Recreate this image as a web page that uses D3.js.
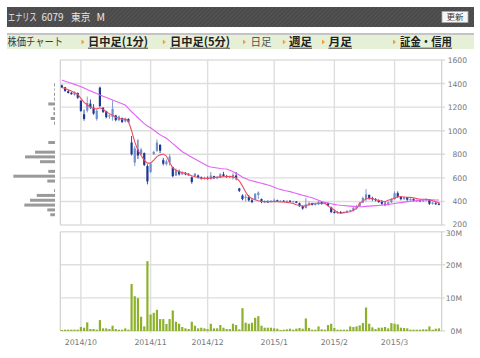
<!DOCTYPE html>
<html><head><meta charset="utf-8">
<script src="https://cdn.jsdelivr.net/npm/d3@7"></script>
<style>html,body{margin:0;padding:0;background:#fff;}svg{display:block;}</style>
</head><body><svg id="c" width="480" height="358"></svg>
<script>
// ---------------- DATA ----------------
const headerParts = ["エナリス","6079","東京","M"];
const refreshLabel = "更新";
const tabTitle = "株価チャート";
const tabLabels = ["日中足(1分)","日中足(5分)","日足","週足","月足","証金・信用"];

const dates = [
"2014/09/22","2014/09/24","2014/09/25","2014/09/26","2014/09/29","2014/09/30",
"2014/10/01","2014/10/02","2014/10/03","2014/10/06","2014/10/07","2014/10/08","2014/10/09","2014/10/10","2014/10/14","2014/10/15","2014/10/16","2014/10/17","2014/10/20","2014/10/21","2014/10/22","2014/10/23","2014/10/24","2014/10/27","2014/10/28","2014/10/29","2014/10/30","2014/10/31",
"2014/11/04","2014/11/05","2014/11/06","2014/11/07","2014/11/10","2014/11/11","2014/11/12","2014/11/13","2014/11/14","2014/11/17","2014/11/18","2014/11/19","2014/11/20","2014/11/21","2014/11/25","2014/11/26","2014/11/27","2014/11/28",
"2014/12/01","2014/12/02","2014/12/03","2014/12/04","2014/12/05","2014/12/08","2014/12/09","2014/12/10","2014/12/11","2014/12/12","2014/12/15","2014/12/16","2014/12/17","2014/12/18","2014/12/19","2014/12/22","2014/12/24","2014/12/25","2014/12/26","2014/12/29","2014/12/30",
"2015/01/05","2015/01/06","2015/01/07","2015/01/08","2015/01/09","2015/01/13","2015/01/14","2015/01/15","2015/01/16","2015/01/19","2015/01/20","2015/01/21","2015/01/22","2015/01/23","2015/01/26","2015/01/27","2015/01/28","2015/01/29","2015/01/30",
"2015/02/02","2015/02/03","2015/02/04","2015/02/05","2015/02/06","2015/02/09","2015/02/10","2015/02/12","2015/02/13","2015/02/16","2015/02/17","2015/02/18","2015/02/19","2015/02/20","2015/02/23","2015/02/24","2015/02/25","2015/02/26","2015/02/27",
"2015/03/02","2015/03/03","2015/03/04","2015/03/05","2015/03/06","2015/03/09","2015/03/10","2015/03/11","2015/03/12","2015/03/13","2015/03/16","2015/03/17","2015/03/18","2015/03/19","2015/03/20"
];

const opens = [1385,1368,1335,1322,1305,1320,1255,1140,1170,1230,1195,1100,1365,1195,1165,1120,1115,1130,1090,1105,1080,1100,900,730,840,800,810,700,
650,800,830,880,750,715,730,690,620,655,630,640,630,605,612,620,605,595,
600,590,615,598,600,630,615,610,600,620,510,450,430,440,410,415,455,420,395,400,395,
405,410,402,405,400,405,398,400,385,360,345,375,385,370,375,395,380,385,350,
310,305,310,302,305,318,320,340,360,390,420,455,430,420,410,395,380,372,392,
420,470,440,420,435,415,420,405,410,400,410,415,380,385,380];
const highs = [1392,1372,1345,1330,1335,1325,1258,1180,1290,1265,1225,1180,1375,1200,1170,1140,1255,1135,1130,1112,1110,1105,955,870,925,855,815,715,
730,830,925,885,770,755,800,695,680,670,655,650,640,612,640,628,612,610,
612,650,618,610,640,650,625,620,640,650,515,460,460,455,425,470,485,425,410,410,412,
425,415,410,412,410,412,405,402,390,365,428,400,390,385,405,400,395,390,355,
325,320,318,315,325,330,355,370,395,440,505,460,440,428,418,412,400,400,428,
485,485,445,440,438,428,425,418,415,415,425,420,398,395,395];
const lows = [1362,1330,1315,1305,1298,1270,1160,1085,1155,1185,1135,1085,1200,1150,1105,1100,1085,1080,1080,1065,1070,1065,790,700,760,795,700,545,
640,795,820,810,705,705,705,605,615,620,625,622,620,550,608,595,585,585,
585,585,590,588,598,610,600,598,585,580,480,410,400,398,385,410,420,385,385,388,390,
398,398,398,398,396,395,392,385,355,330,340,360,365,365,370,372,375,360,300,
298,295,295,298,300,310,315,330,355,385,400,415,405,400,388,372,360,365,385,
415,430,410,412,405,400,400,395,398,395,400,370,372,370,368];
const closes = [1368,1338,1320,1310,1325,1280,1168,1100,1235,1200,1145,1170,1210,1160,1115,1130,1185,1090,1120,1075,1100,1075,800,850,790,840,710,570,
720,820,900,830,720,740,780,615,660,630,645,630,628,565,635,605,595,600,
590,620,598,605,630,615,610,612,625,600,490,420,440,410,395,465,475,395,400,395,405,
410,402,405,400,405,398,400,388,360,340,375,385,370,378,395,380,390,365,310,
305,310,302,310,320,325,345,360,390,430,460,430,420,410,395,380,372,392,420,
470,440,420,435,415,420,405,410,400,410,420,380,390,378,375];
// volume, millions of shares
const volumes = [0.3,0.4,0.4,0.4,0.4,0.4,1.2,1.0,2.6,0.6,0.6,0.4,3.3,0.8,0.8,0.6,1.6,0.6,0.4,0.4,0.8,0.4,14.2,10.5,9.9,4.3,1.4,21.1,
5.0,5.5,6.4,3.6,3.6,2.1,3.6,6.2,2.8,2.2,1.2,0.8,0.6,2.8,1.6,0.8,1.0,0.8,
0.6,2.2,0.8,0.8,1.8,1.0,0.6,0.6,2.2,1.8,0.5,6.9,2.5,2.2,2.5,4.0,4.5,1.6,1.0,1.0,1.0,
0.8,0.7,0.3,0.4,0.5,0.7,0.4,0.7,0.9,0.7,3.8,0.9,0.4,0.4,1.4,0.5,0.4,1.8,2.2,
0.9,0.4,0.4,0.4,0.4,1.4,1.2,1.4,1.7,2.4,7.1,2.2,1.1,0.6,1.0,1.0,1.2,0.8,2.4,
2.2,2.0,1.0,0.9,0.8,0.4,0.4,0.4,0.4,0.5,0.5,1.4,0.4,0.7,0.8];
// short moving average (red)
const maShort = [1366,1358,1348,1337,1323,1309,1275,1240,1218,1200,1188,1185,1195,1182,1160,1145,1132,1115,1105,1096,1100,1082,1000,905,835,790,750,725,
725,750,780,795,802,785,730,685,665,652,645,638,628,618,610,603,598,596,
596,598,602,606,608,610,612,611,608,598,575,530,480,440,425,415,405,400,398,398,398,
398,398,396,395,392,389,382,372,365,361,362,374,380,384,385,384,384,362,345,
327,305,300,305,310,313,325,341,382,405,420,427,422,414,408,402,398,410,418,
428,440,440,438,435,434,430,425,418,418,418,414,406,398,390];
// long moving average (magenta)
const maLong = [1430,1420,1411,1402,1393,1384,1374,1362,1350,1338,1327,1315,1303,1293,1282,1272,1261,1250,1240,1229,1218,1190,1161,1136,1110,1085,1060,1040,
1025,1005,985,965,950,936,914,890,868,845,822,806,790,775,760,745,730,715,
700,692,688,684,680,677,675,665,652,640,624,605,594,582,575,568,561,554,547,540,530,
520,510,502,495,489,483,476,468,460,452,445,438,432,420,410,400,392,386,380,
375,370,367,365,362,360,358,356,355,356,358,360,362,364,366,369,372,375,378,
382,386,390,394,398,401,404,407,410,412,412,413,413,412,412];

const priceTicks = [200,400,600,800,1000,1200,1400,1600];
const volTicks = [0,10,20,30];
const volTickLabels = ["0M","10M","20M","30M"];
const monthTickDates = ["2014/10/01","2014/11/04","2014/12/01","2015/01/05","2015/02/02","2015/03/02"];
const monthTickLabels = ["2014/10","2014/11","2014/12","2015/1","2015/2","2015/3"];

// volume-at-price profile (left)
const profilePrices = [287,328,369,410,451,492,532,573,614,655,696,737,778,818,859,900,941,982,1023,1063,1104,1145,1186,1227,1268,1309,1350,1390];
const profileVolumes = [3.3,5.4,21.5,17.5,12.8,0.7,0,5.4,29.2,4.7,0,10.5,21,14,0,4.7,0,0,0,0.7,3,1.1,1.1,4.7,0.7,0.7,0.4,0.7];

// ---------------- DRAW ----------------
const svg = d3.select("#c");
const JP = "'Noto Sans CJK JP', sans-serif";
const defs = svg.append("defs");
const pat = defs.append("pattern").attr("id","stripe").attr("width",3).attr("height",3)
  .attr("patternUnits","userSpaceOnUse").attr("patternTransform","rotate(45)");
pat.append("rect").attr("width",3).attr("height",3).attr("fill","#4a4a4a");
pat.append("rect").attr("width",1).attr("height",3).attr("fill","#555555");

// header bar
svg.append("rect").attr("x",7).attr("y",7).attr("width",467).attr("height",20).attr("fill","url(#stripe)");
const hdrX = [8, 41.5, 71, 96.5], hdrScale = [0.68, 0.95, 0.92, 1.0];
headerParts.forEach((t,i)=>{
  svg.append("text").attr("transform",`translate(${hdrX[i]},21) scale(${hdrScale[i]},1)`)
    .attr("font-family",JP).attr("font-size",10.5).attr("fill","#e6e6e6").text(t);
});
svg.append("rect").attr("x",442).attr("y",11.5).attr("width",26).attr("height",11).attr("fill","#f6f6f6")
  .attr("stroke","#aaa").attr("stroke-width",0.8);
svg.append("text").attr("x",455).attr("y",20.3).attr("text-anchor","middle").attr("font-family",JP)
  .attr("font-size",8.5).attr("fill","#333").text(refreshLabel);

// tab bar
svg.append("rect").attr("x",7).attr("y",34).attr("width",467).attr("height",15).attr("fill","#e6f0d6");
svg.append("line").attr("x1",7).attr("x2",474).attr("y1",34).attr("y2",34).attr("stroke","#c4c4c4").attr("stroke-width",2);
svg.append("text").attr("x",7.5).attr("y",46).attr("font-family",JP).attr("font-size",11).attr("fill","#3a3a3a")
  .attr("textLength",55.5).attr("lengthAdjust","spacingAndGlyphs").text(tabTitle);
const triX = [81.5,162.8,243,282.8,322,393];
const tabX = [88,170,250.5,289,328.5,400];
const tabW = [60,60,21,23,23.5,52];
tabLabels.forEach((t,i)=>{
  const tx = triX[i];
  svg.append("path").attr("d",`M${tx},${39.5}L${tx+3},${42}L${tx},${44.5}Z`).attr("fill","#f0a030");
  const plain = (t === "日足");
  svg.append("text").attr("x",tabX[i]).attr("y",46.3).attr("font-family",JP).attr("font-size",11.5)
    .attr("font-weight",plain?400:700).attr("fill",plain?"#555":"#222")
    .attr("textLength",tabW[i]).attr("lengthAdjust","spacingAndGlyphs").text(t);
  if(!plain){
    svg.append("line").attr("x1",tabX[i]).attr("x2",tabX[i]+tabW[i]).attr("y1",48.2).attr("y2",48.2)
      .attr("stroke","#333").attr("stroke-width",0.9);
  }
});

// scales
const x = d3.scaleBand().domain(dates).range([60.3,440.5]).padding(0);
const xc = d => x(d) + x.bandwidth()/2;
const yP = d3.scaleLinear().domain([200,1600]).range([225,60]);
const yV = d3.scaleLinear().domain([0,30]).range([331,231.7]);
const plotL = 60.3, plotR = 441.7;
const gridC = "#dedede", frameC = "#cfcfcf";
const AX = "'DejaVu Sans', sans-serif";

// price grid
const g = svg.append("g");
priceTicks.forEach(v=>{
  g.append("line").attr("x1",plotL).attr("x2",plotR+3.5).attr("y1",yP(v)).attr("y2",yP(v))
    .attr("stroke",gridC).attr("stroke-width",1.4);
  g.append("text").attr("x",467).attr("y",yP(v)+(v===200?2:3)).attr("text-anchor","end")
    .attr("font-family",AX).attr("font-size",7.6).attr("fill","#777").text(d3.format("d")(v));
});
volTicks.forEach((v,i)=>{
  g.append("line").attr("x1",plotL).attr("x2",plotR+3.5).attr("y1",yV(v)).attr("y2",yV(v))
    .attr("stroke",gridC).attr("stroke-width",1.4);
  g.append("text").attr("x",462).attr("y",yV(v)+(v===30?4:3)).attr("text-anchor","end")
    .attr("font-family",AX).attr("font-size",7.6).attr("fill","#777").text(volTickLabels[i]);
});
monthTickDates.forEach((d,i)=>{
  const mx = xc(d);
  g.append("line").attr("x1",mx).attr("x2",mx).attr("y1",yP(1600)).attr("y2",yP(200)).attr("stroke",gridC).attr("stroke-width",1.4);
  g.append("line").attr("x1",mx).attr("x2",mx).attr("y1",yV(30)).attr("y2",yV(0)+2).attr("stroke",gridC).attr("stroke-width",1.4);
  g.append("text").attr("x",mx).attr("y",344.5).attr("text-anchor","middle")
    .attr("font-family",AX).attr("font-size",7.8).attr("fill","#777").text(monthTickLabels[i]);
});
// frames
[[yP(1600),yP(200)],[yV(30),yV(0)]].forEach(([t,b])=>{
  g.append("line").attr("x1",plotL).attr("x2",plotL).attr("y1",t).attr("y2",b).attr("stroke",frameC).attr("stroke-width",1.2);
  g.append("line").attr("x1",plotR).attr("x2",plotR).attr("y1",t).attr("y2",b).attr("stroke",frameC).attr("stroke-width",1.2);
});

// volume profile
const xProf = d3.scaleLinear().domain([0,30]).range([0,42.8]);
svg.append("g").selectAll("rect").data(profilePrices).join("rect")
  .attr("x",(p,i)=>55 - xProf(profileVolumes[i]))
  .attr("y",p=>yP(p)-1.5).attr("height",3)
  .attr("width",(p,i)=>xProf(profileVolumes[i]))
  .attr("fill","#9a9a9a");

// candles
const upC = "#6f8fcc", dnC = "#1d3893";
const cg = svg.append("g");
dates.forEach((d,i)=>{
  const o=opens[i], h=highs[i], l=lows[i], c=closes[i];
  const col = c >= o ? upC : dnC;
  const cx = xc(d);
  cg.append("line").attr("x1",cx).attr("x2",cx).attr("y1",yP(h)).attr("y2",yP(l)).attr("stroke",col).attr("stroke-width",0.9);
  const top = yP(Math.max(o,c)), bot = yP(Math.min(o,c));
  cg.append("rect").attr("x",cx-1.1).attr("width",2.2).attr("y",top).attr("height",Math.max(1,bot-top)).attr("fill",col);
});

// moving averages
const line = arr => d3.line().x((d,i)=>xc(dates[i])).y(d=>yP(d))(arr);
svg.append("path").attr("d",line(maLong)).attr("fill","none").attr("stroke","#e462f7").attr("stroke-width",1.1);
svg.append("path").attr("d",line(maShort)).attr("fill","none").attr("stroke","#f04a66").attr("stroke-width",1.1);

// volume bars
svg.append("g").selectAll("rect").data(dates).join("rect")
  .attr("x",d=>xc(d)-1.1).attr("width",2.2)
  .attr("y",(d,i)=>yV(volumes[i])).attr("height",(d,i)=>yV(0)-yV(volumes[i]))
  .attr("fill","#8db12c");
</script></body></html>
